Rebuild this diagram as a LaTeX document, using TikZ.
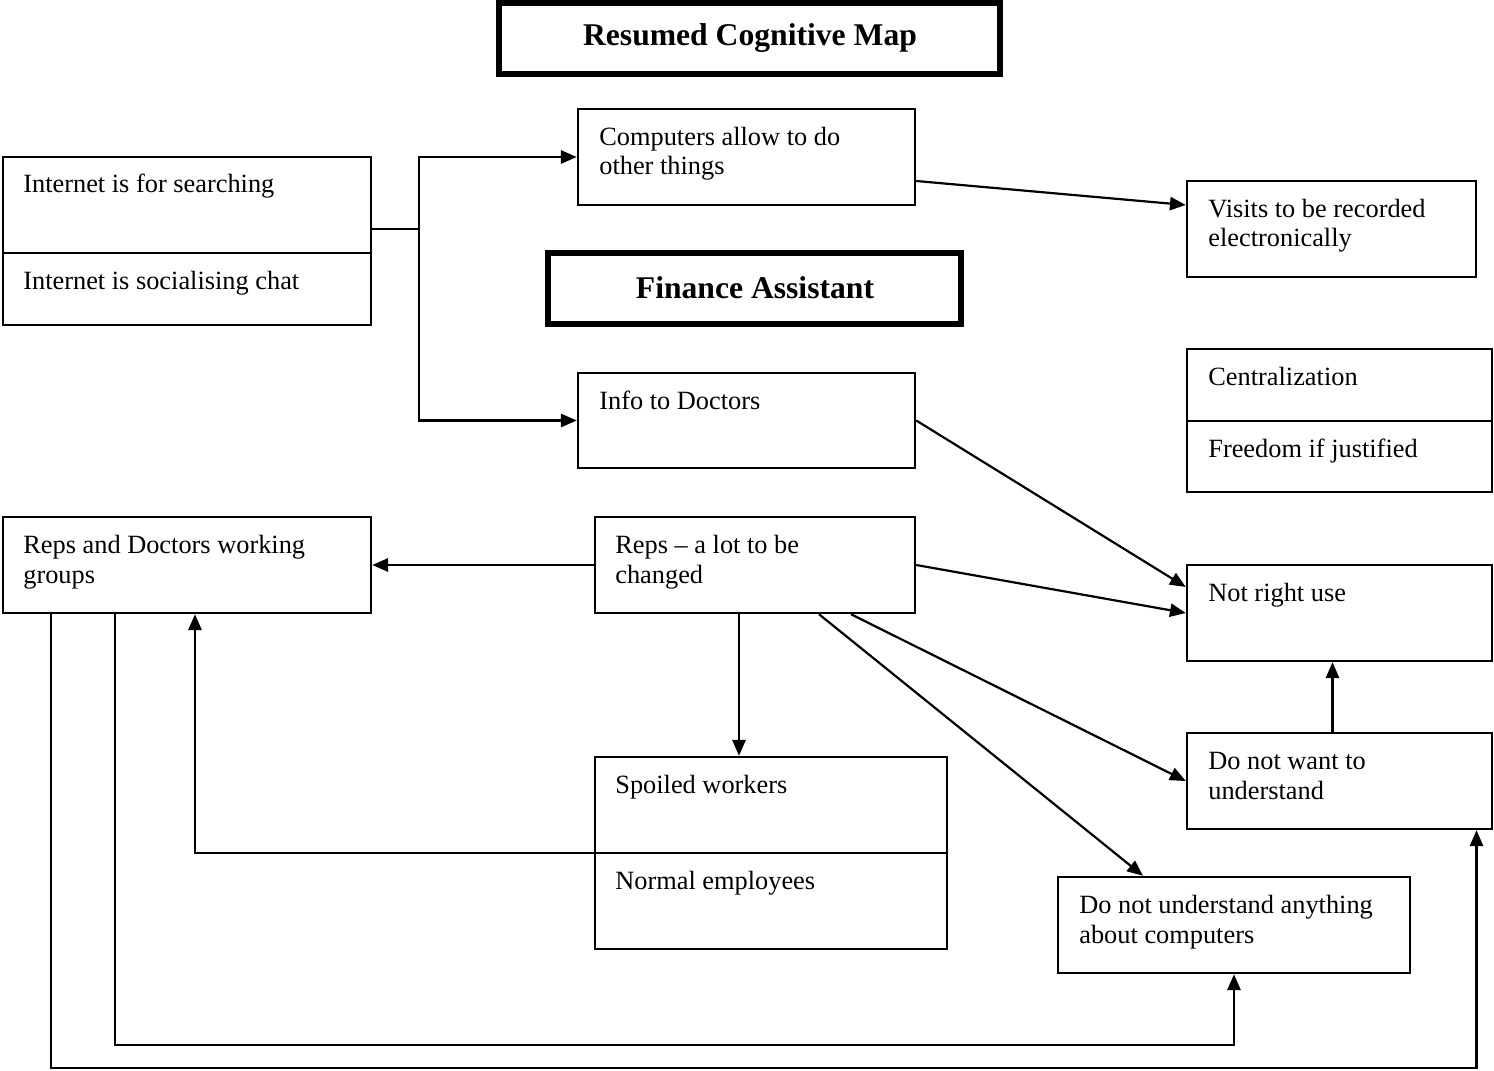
\documentclass[tikz,border=0pt]{standalone}
\usepackage{fontspec}
\setmainfont{Liberation Serif}
\usetikzlibrary{arrows.meta,fit,calc}
\begin{document}
\begin{tikzpicture}[x=0.02cm,y=-0.02cm,
  box/.style={draw,line width=1.4pt,inner sep=0pt,fit={#1}},
  heavybox/.style={draw,line width=3.7pt,inner sep=0pt,fit={#1}},
  heading/.style={inner sep=0pt,font=\bfseries\fontsize{18}{21}\selectfont},
  txt/.style={anchor=base west,inner sep=0pt,align=left,
    font=\fontsize{15}{17}\selectfont},
  divider/.style={line width=1.4pt},
  link/.style={line width=1.25pt},
  arr/.style={line width=1.25pt,-{Triangle[length=9pt,width=7.5pt]}}]
\useasboundingbox (0,0) rectangle (1494,1071);

% headings
\node[heavybox={(499,3) (1000,74)}] (title) {};
\node[heading] (ttitle) at (750,38) {Resumed Cognitive Map};
\node[heavybox={(548,253) (961,324)}] (finance) {};
\node[heading] (tfinance) at (755,288) {Finance Assistant};

% concept boxes
\node[box={(3,157) (371,325)}] (inet) {};
\draw[divider] (inet.west |- 0,253) -- (inet.east |- 0,253);
\node[box={(578,109) (915,205)}] (comp) {};
\node[box={(1187,181) (1476,277)}] (visits) {};
\node[box={(1187,349) (1492,492)}] (central) {};
\draw[divider] (central.west |- 0,421) -- (central.east |- 0,421);
\node[box={(578,373) (915,468)}] (info) {};
\node[box={(3,517) (371,613)}] (repsdoc) {};
\node[box={(595,517) (915,613)}] (reps) {};
\node[box={(1187,565) (1492,661)}] (notright) {};
\node[box={(1187,733) (1492,829)}] (dnwant) {};
\node[box={(595,757) (947,949)}] (spoiled) {};
\draw[divider] (spoiled.west) -- (spoiled.east);
\node[box={(1058,877) (1410,973)}] (dnund) {};

% box texts (a two-line node sits on the baseline of its last line)
\node[txt] (tsearch) at (23,193) {Internet is for searching};
\node[txt] (tchat) at (23,289) {Internet is socialising chat};
\node[txt] (tcomp) at (599,175) {Computers allow to do\\other things};
\node[txt] (tvisits) at (1208,247) {Visits to be recorded\\electronically};
\node[txt] (tcentral) at (1208,385) {Centralization};
\node[txt] (tfreedom) at (1208,457) {Freedom if justified};
\node[txt] (tinfo) at (599,409) {Info to Doctors};
\node[txt] (trepsdoc) at (23,583) {Reps and Doctors working\\groups};
\node[txt] (treps) at (615,583) {Reps – a lot to be\\changed};
\node[txt] (tnotright) at (1208,601) {Not right use};
\node[txt] (tdnwant) at (1208,799) {Do not want to\\understand};
\node[txt] (tspoiled) at (615,793) {Spoiled workers};
\node[txt] (tnormal) at (615,889) {Normal employees};
\node[txt] (tdnund) at (1079,943) {Do not understand anything\\about computers};

% connectors
\coordinate (fork) at (419,229);
\coordinate (lowA) at (0,1045);
\coordinate (lowB) at (0,1068);
\coordinate (dwin) at ([shift={(137,0)}]dnwant.south);

\draw[link] (inet.east |- fork) -- (fork);
\draw[arr] (fork) |- (comp.west);
\draw[arr] (fork) |- (info.west);
\draw[arr] ([shift={(0,24)}]comp.east) -- ([shift={(0,-24)}]visits.west);
\draw[arr] (info.east) -- ([shift={(0,-26)}]notright.west);
\draw[arr] (reps.west) -- (repsdoc.east);
\draw[arr] (reps.east) -- (notright.west);
\draw[arr] ([shift={(96,0)}]reps.south) -- (dnwant.west);
\draw[arr] ([shift={(64,0)}]reps.south) -- ([shift={(-91,0)}]dnund.north);
\draw[arr] ([shift={(-16,0)}]reps.south) -- ([shift={(-16,0)}]reps.south |- spoiled.north);
\draw[arr] (spoiled.west) -| ([shift={(8,0)}]repsdoc.south);
\draw[arr] ([shift={(-7,0)}]dnwant.north) -- ([shift={(-7,0)}]notright.south);
\draw[arr] ([shift={(-72,0)}]repsdoc.south) |- (lowA -| dnund.south) -- (dnund.south);
\draw[arr] ([shift={(-136,0)}]repsdoc.south) |- (lowB -| dwin) -- (dwin);
\end{tikzpicture}
\end{document}
